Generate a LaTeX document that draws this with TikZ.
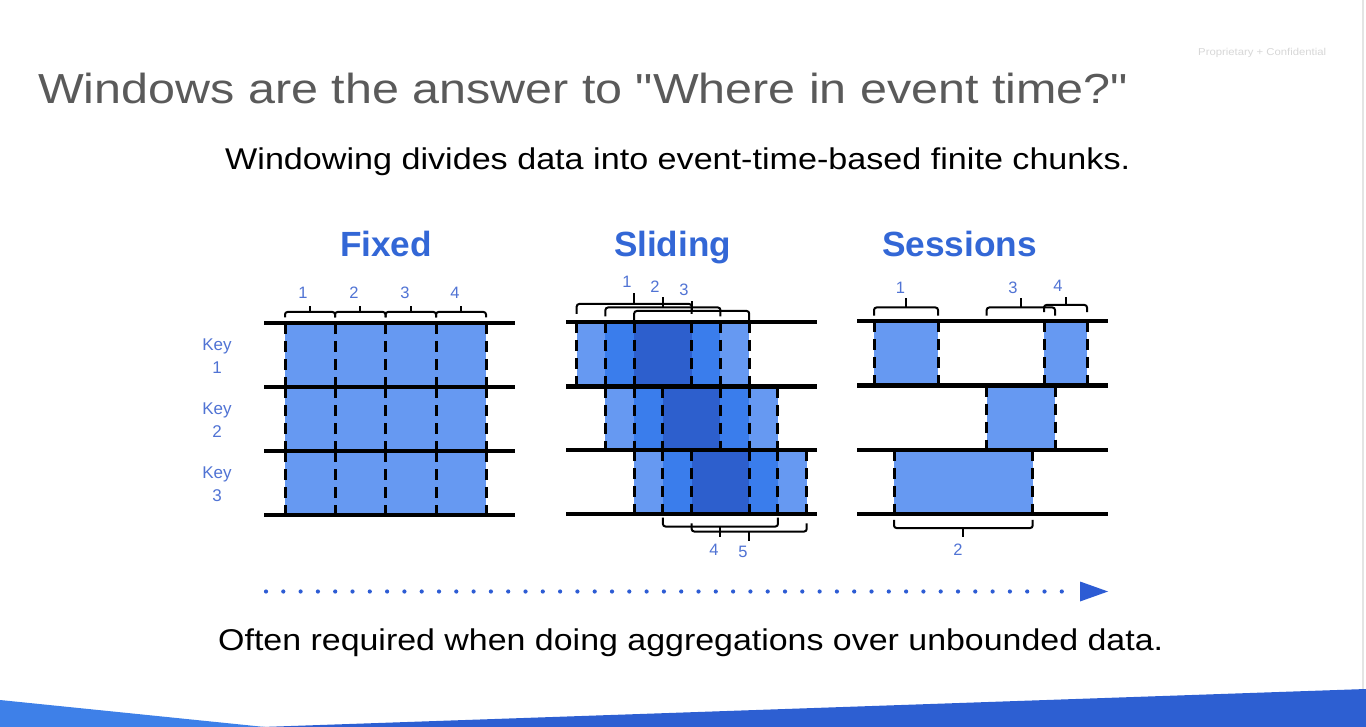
\documentclass[tikz,border=0pt]{standalone}
\usepackage{fontspec}
\setmainfont{Liberation Sans}
\newfontfamily\plainquotes{Liberation Sans}
\usepackage{graphicx}
\definecolor{titlegray}{RGB}{90,90,90}
\definecolor{headblue}{RGB}{51,103,214}
\definecolor{lblblue}{RGB}{80,115,212}
\definecolor{cL}{RGB}{102,153,242}
\definecolor{cM}{RGB}{58,125,236}
\definecolor{cD}{RGB}{45,95,205}
\definecolor{arrblue}{RGB}{45,92,212}
\definecolor{bandL}{RGB}{62,128,232}
\definecolor{bandR}{RGB}{45,95,210}
\definecolor{confgray}{RGB}{215,215,215}
\definecolor{edgegray}{RGB}{228,228,228}
\newcommand\fitw[2]{\resizebox{#1}{\height}{#2}}
\newcommand\bx[1]{576.7+28.75*(#1)}
\newcommand\wbrace[4]{% x1, x2, y, tick length (neg = up)
  \draw[bracel] ({#1},{#3-(#4)*0.9}) -- ({#1},{#3}) -- ({#2},{#3}) -- ({#2},{#3-(#4)*0.9});
  \draw[bracel] ({(#1+#2)/2},{#3}) -- ++(0,#4);}
\begin{document}
\begin{tikzpicture}[x=1pt,y=-1pt,
  rowline/.style={line width=4pt,black},
  dashl/.style={line width=3pt,black,dash pattern=on 11pt off 7pt},
  bracel/.style={line width=2pt,black,rounded corners=2.5pt},
  keylbl/.style={text=lblblue,font=\fontsize{17}{20}\selectfont,align=center,inner sep=0pt},
  numlbl/.style={text=lblblue,font=\fontsize{16.5}{18}\selectfont,inner sep=0pt},
  headlbl/.style={text=headblue,font=\bfseries\fontsize{35}{40}\selectfont,inner sep=0pt,anchor=base},
  dotline/.style={line width=4.2pt,arrblue,line cap=round,dash pattern=on 0pt off 17.3pt}]
\useasboundingbox (0,0) rectangle (1366,727);
\fill[white] (0,0) rectangle (1366,727);
\draw[edgegray,line width=1.5pt] (1363,0) -- (1363,690);
% bottom band
\fill[bandL] (0,700) -- (265,727) -- (0,727) -- cycle;
\fill[bandR] (262,727) -- (1366,689) -- (1366,727) -- cycle;
% texts
\node[anchor=base west,inner sep=0pt,text=confgray,font=\fontsize{10}{12}\selectfont] (conf) at (1198,56) {\fitw{128pt}{Proprietary + Confidential}};
\node[anchor=base west,inner sep=0pt,text=titlegray,font=\plainquotes\fontsize{42}{48}\selectfont] (title) at (38,104) {\fitw{1090pt}{Windows are the answer to "Where in event time?"}};
\node[anchor=base west,inner sep=0pt,text=black,font=\fontsize{30}{36}\selectfont] (sub) at (225,170) {\fitw{905pt}{Windowing divides data into event-time-based finite chunks.}};
\node[anchor=base west,inner sep=0pt,text=black,font=\fontsize{30}{36}\selectfont] (foot) at (218,650) {\fitw{945pt}{Often required when doing aggregations over unbounded data.}};
\node[headlbl] (hfixed) at (386,257) {\fitw{92pt}{Fixed}};
\node[headlbl] (hslide) at (672.5,257) {\fitw{117pt}{Sliding}};
\node[headlbl] (hsess) at (959.5,257) {\fitw{155pt}{Sessions}};
% key labels
\node[keylbl] (k1) at (217,356) {Key\\[3pt]1};
\node[keylbl] (k2) at (217,420) {Key\\[3pt]2};
\node[keylbl] (k3) at (217,484) {Key\\[3pt]3};
% ---------------- Fixed ----------------
\fill[cL] (285,323) rectangle (486,515);
\foreach \x in {285,335,385.5,436,486} {
  \foreach \ya/\yb in {323/387,387/451,451/515}
    \draw[dashl] (\x,\ya) -- (\x,\yb);
}
\foreach \y in {323,387,451,515} \draw[rowline] (264,\y) -- (515,\y);
\wbrace{285}{335}{312}{-6}
\wbrace{335}{385.5}{312}{-6}
\wbrace{385.5}{436}{312}{-6}
\wbrace{436}{486}{312}{-6}
\node[numlbl] (f1) at (303,293) {1};
\node[numlbl] (f2) at (354,293) {2};
\node[numlbl] (f3) at (405,293) {3};
\node[numlbl] (f4) at (455,293) {4};
% ---------------- Sliding ----------------
\foreach \r/\ya/\yb in {0/322/386.5,1/386.5/450,2/450/514} {
  \fill[cL] ({\bx{\r}},\ya) rectangle ({\bx{\r+1}},\yb);
  \fill[cM] ({\bx{\r+1}},\ya) rectangle ({\bx{\r+2}},\yb);
  \fill[cD] ({\bx{\r+2}},\ya) rectangle ({\bx{\r+4}},\yb);
  \fill[cM] ({\bx{\r+4}},\ya) rectangle ({\bx{\r+5}},\yb);
  \fill[cL] ({\bx{\r+5}},\ya) rectangle ({\bx{\r+6}},\yb);
  \foreach \k in {0,1,2,4,5,6}
    \draw[dashl] ({\bx{\r+\k}},\ya) -- ({\bx{\r+\k}},\yb);
}
\foreach \y in {322,386.5,450,514} \draw[rowline] (566,\y) -- (817,\y);
\wbrace{\bx{0}}{\bx{4}}{304}{-11}
\wbrace{\bx{1}}{\bx{5}}{307.5}{-10}
\wbrace{\bx{2}}{\bx{6}}{311}{-10}
\wbrace{\bx{3}}{\bx{7}}{526.5}{10}
\wbrace{\bx{4}}{\bx{8}}{531.5}{9}
\node[numlbl] (s1) at (627,282) {1};
\node[numlbl] (s2) at (655,287) {2};
\node[numlbl] (s3) at (684,290) {3};
\node[numlbl] (s4) at (714,550) {4};
\node[numlbl] (s5) at (743,552) {5};
% ---------------- Sessions ----------------
\fill[cL] (874,321.5) rectangle (938,385.5);
\fill[cL] (1044,321.5) rectangle (1087,385.5);
\fill[cL] (986.7,385.5) rectangle (1055,449.5);
\fill[cL] (894,449.5) rectangle (1032.7,513.5);
\foreach \x/\ya/\yb in {874/321.5/385.5,938/321.5/385.5,1044/321.5/385.5,1087/321.5/385.5,
  986.7/385.5/449.5,1055/385.5/449.5,894/449.5/513.5,1032.7/449.5/513.5}
  \draw[dashl] (\x,\ya) -- (\x,\yb);
\foreach \y in {321.5,385.5,449.5,513.5} \draw[rowline] (857,\y) -- (1108,\y);
\wbrace{874}{938}{307.5}{-9}
\wbrace{986.7}{1055}{307.5}{-9}
\wbrace{1044}{1087}{305}{-8}
\wbrace{894}{1032.7}{528}{9}
\node[numlbl] (e1) at (900.5,288) {1};
\node[numlbl] (e3) at (1013,288) {3};
\node[numlbl] (e4) at (1058,286) {4};
\node[numlbl] (e2) at (958,550) {2};
% ---------------- time arrow ----------------
\coordinate (ta) at (266,591.5);
\coordinate (tb) at (1076,591.5);
\draw[dotline] (ta) -- (tb);
\fill[arrblue] (1080,581.5) -- (1108,591.5) -- (1080,601.5) -- cycle;
\end{tikzpicture}
\end{document}
